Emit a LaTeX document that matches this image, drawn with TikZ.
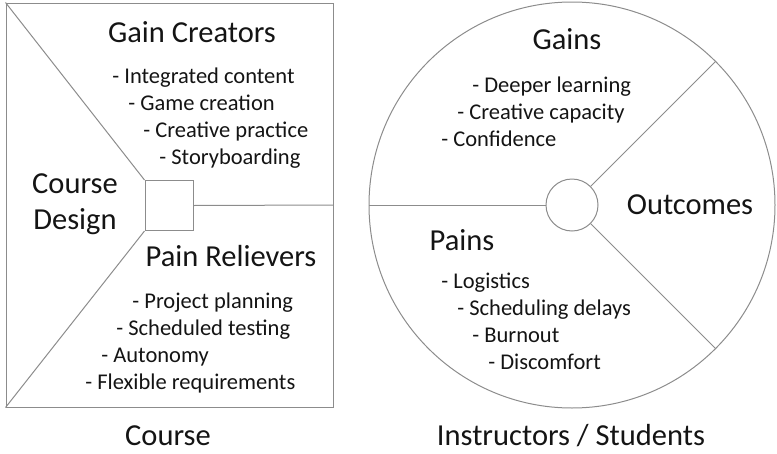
\documentclass[tikz,border=0pt]{standalone}
\usepackage{fontspec}
\setmainfont{Carlito}
\usetikzlibrary{shapes.geometric}
\newcommand\R{203}

\begin{document}
\begin{tikzpicture}[x=1pt,y=-1pt,thick,
                    line/.style={draw=black!45,line width=1pt}]

  \tikzstyle{title}=[font=\fontsize{30.5}{36}\selectfont,text=black!92,inner sep=0pt]
  \tikzstyle{item}=[font=\fontsize{22.5}{27}\selectfont,text=black!92,anchor=west,
                    inner sep=0pt,text height=0.72em,text depth=0.22em,yshift=-4pt]

  \useasboundingbox (0,0) rectangle (777,453);

  % course side
  \node[line,rectangle,minimum width=327pt,minimum height=404pt] (course) at (169.5,205) {};
  \node[line,rectangle,minimum width=48pt,minimum height=50pt]   (hub)    at (169,205.5) {};
  \draw[line] (course.north west) -- (hub.north west);
  \draw[line] (course.south west) -- (hub.south west);
  \draw[line] (hub.east) -- (course.east);

  \node[title] (GC) at (192,32)  {Gain Creators};
  \node[item]  (g1) at (112,77)  {- Integrated content};
  \node[item]  (g2) at (128,104) {- Game creation};
  \node[item]  (g3) at (143,131) {- Creative practice};
  \node[item]  (g4) at (159,158) {- Storyboarding};

  \node[title,align=center] (CD) at (75,204) {Course\\[0pt]Design};

  \node[title] (PR) at (231,256) {Pain Relievers};
  \node[item]  (p1) at (132,302) {- Project planning};
  \node[item]  (p2) at (116,329) {- Scheduled testing};
  \node[item]  (p3) at (101,356) {- Autonomy};
  \node[item]  (p4) at (85,383)  {- Flexible requirements};

  \node[title] (C) at (168,436) {Course};

  % customer side
  \node[line,circle,minimum size=2*\R pt] (users) at (572,205) {};
  \node[line,circle,minimum size=52pt]    (core)  at (572,205) {};
  \draw[line] (core.west) -- (users.west);
  \draw[line] (core.45)   -- (users.45);
  \draw[line] (core.-45)  -- (users.-45);

  \node[title] (G)  at (567,39)  {Gains};
  \node[item]  (a1) at (472,86)  {- Deeper learning};
  \node[item]  (a2) at (457,113) {- Creative capacity};
  \node[item]  (a3) at (441,140) {- Confidence};

  \node[title] (O) at (690,205) {Outcomes};

  \node[title] (P)  at (462,240) {Pains};
  \node[item]  (b1) at (441,282) {- Logistics};
  \node[item]  (b2) at (457,309) {- Scheduling delays};
  \node[item]  (b3) at (472,336) {- Burnout};
  \node[item]  (b4) at (488,363) {- Discomfort};

  \node[title] (IS) at (571,436) {Instructors / Students};
\end{tikzpicture}
\end{document}
